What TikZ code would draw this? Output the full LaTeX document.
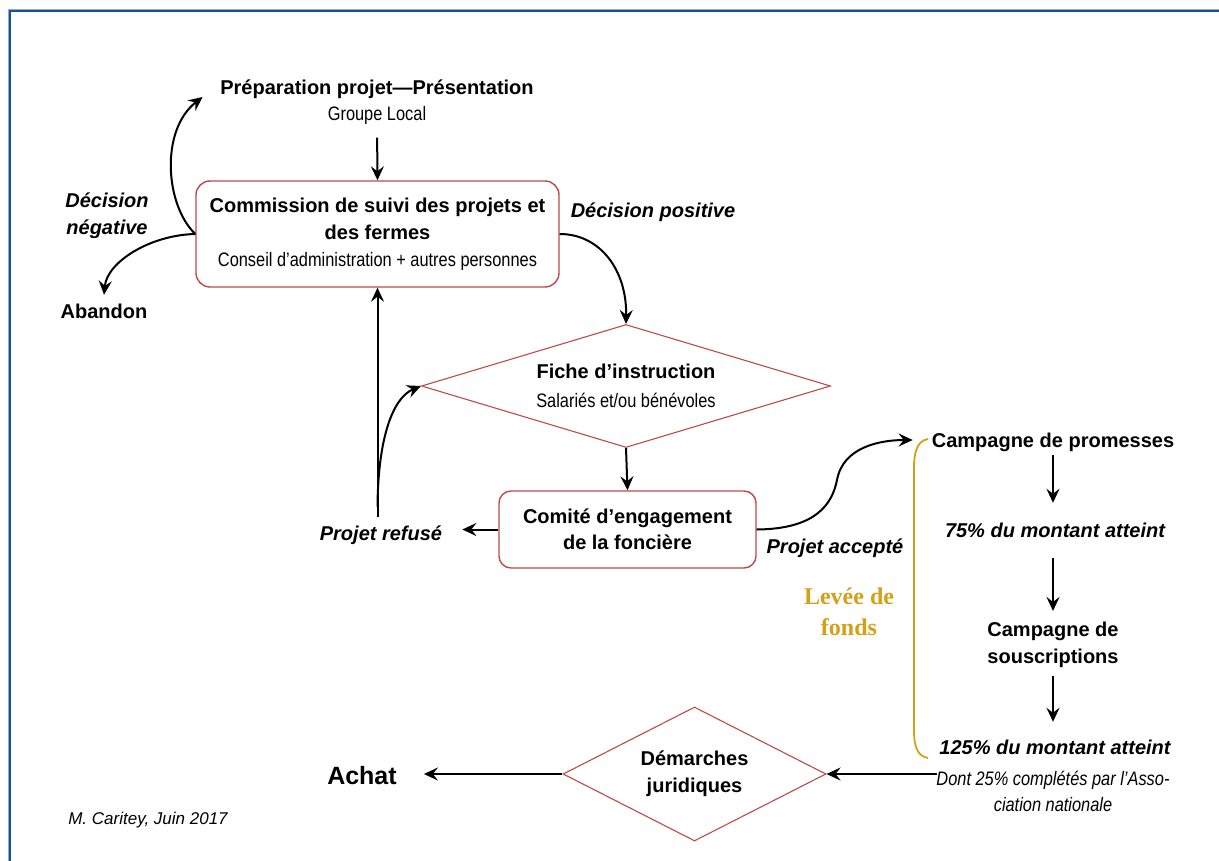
\documentclass[tikz,border=0pt]{standalone}
\usepackage{fontspec}
\setmainfont{Liberation Sans}
\newfontfamily\narrowfont[FakeStretch=0.84]{Liberation Sans}
\newfontfamily\leveefont{Liberation Serif}
\usetikzlibrary{arrows.meta,shapes.geometric}
\definecolor{boxred}{RGB}{190,75,72}
\definecolor{gold}{RGB}{212,160,23}
\definecolor{framedark}{RGB}{27,79,143}
\definecolor{framelight}{RGB}{140,175,215}
\begin{document}
\begin{tikzpicture}[x=1pt,y=-1pt,
  arr/.style={-{Stealth[length=14pt,width=13pt,inset=5pt]}, line width=2pt, black},
  lbl/.style={inner sep=0pt, text height=14pt, text depth=4pt, font=\fontsize{20}{24}\selectfont\bfseries},
  ilbl/.style={lbl, font=\fontsize{20}{24}\selectfont\bfseries\itshape},
  mline/.style={inner sep=0pt, align=center, font=\fontsize{20}{26}\selectfont},
  roundbox/.style={draw=boxred, line width=1.4pt, rounded corners=14pt, align=center, inner sep=0pt},
  diam/.style={draw=boxred, line width=1.1pt, diamond, inner sep=0pt, align=center},
]
\useasboundingbox (0,0) rectangle (1219,861);
\fill[white] (0,0) rectangle (1219,861);
% frame
\draw[framelight, line width=1pt] (8.5,861) -- (8.5,9.5) -- (1219,9.5);
\draw[framedark, line width=2pt] (10,861) -- (10,11) -- (1219,11);

% nodes
\node[mline] (prep) at (377,102) {{\bfseries Préparation projet—Présentation}\\{\narrowfont\fontsize{19.5}{26}\selectfont Groupe Local}};
\node[roundbox, minimum width=363pt, minimum height=106pt, font=\fontsize{20}{27}\selectfont] (comm) at (377.5,234)
  {{\bfseries Commission de suivi des projets et}\\{\bfseries des fermes}\\{\narrowfont\fontsize{19.5}{27}\selectfont Conseil d’administration + autres personnes}};
\node[mline, font=\fontsize{20}{27}\selectfont\bfseries\itshape] (decneg) at (107,216) {Décision\\négative};
\node[lbl] (aband) at (104,314) {Abandon};
\node[ilbl] (decpos) at (653,213) {Décision positive};
\node[diam, minimum width=409pt, minimum height=123pt, aspect=3.3, font=\fontsize{20}{29}\selectfont] (fiche) at (626,386)
  {{\bfseries Fiche d’instruction}\\{\narrowfont\fontsize{19.5}{29}\selectfont Salariés et/ou bénévoles}};
\node[roundbox, rounded corners=12pt, minimum width=257pt, minimum height=77pt, font=\fontsize{20}{26}\selectfont\bfseries] (comite) at (627.5,529.5)
  {Comité d’engagement\\de la foncière};
\node[ilbl] (refuse) at (381,535) {Projet refusé};
\node[ilbl] (accept) at (835,548) {Projet accepté};
\node[align=center, inner sep=0pt, text=gold, font=\leveefont\fontsize{24}{31}\selectfont\bfseries] (levee) at (849,612) {Levée de\\fonds};
\node[lbl] (prom) at (1053,442) {Campagne de promesses};
\node[ilbl] (p75) at (1055,532) {75\% du montant atteint};
\node[mline, font=\fontsize{20}{27}\selectfont\bfseries] (sousc) at (1053,645) {Campagne de\\souscriptions};
\node[ilbl] (p125) at (1055,749) {125\% du montant atteint};
\node[mline, font=\narrowfont\itshape\fontsize{19.5}{26}\selectfont] (dont) at (1053,791) {Dont 25\% complétés par l’Asso-\\ciation nationale};
\node[diam, minimum width=263pt, minimum height=134pt, aspect=2, font=\fontsize{20}{27}\selectfont\bfseries] (dem) at (694.5,774) {Démarches\\juridiques};
\node[inner sep=0pt, text height=18pt, text depth=0pt, font=\fontsize{25}{30}\selectfont\bfseries] (achat) at (362,775) {Achat};
\node[inner sep=0pt, font=\fontsize{17}{20}\selectfont\itshape] (sig) at (148,820) {M. Caritey, Juin 2017};

% bracket
\draw[gold, line width=1.8pt] (928,439) .. controls (917,441) and (914,452) .. (914,468) -- (914,730) .. controls (914,746) and (917,756) .. (928,758);

% connectors
\draw[arr, shorten <=13pt] (prep.south) -- (comm.north);
\draw[arr] (comm.west) .. controls (165,205) and (160,130) .. ([xshift=-17.5pt,yshift=5pt]prep.west);
\draw[arr] (comm.west) .. controls (150,235) and (107,262) .. ([yshift=10pt]aband.north);
\draw[arr] (comm.east) .. controls (600,234) and (627,270) .. (fiche.north);
\draw[arr] (fiche.south) -- (comite.north);
\draw[arr, shorten >=20pt] (comite.west) -- (comite.west -| refuse.east);
\path (comm.south |- refuse.north) ++(0,-19) coordinate (fork);
\draw[arr, shorten <=9pt] (comm.south |- refuse.north) -- (comm.south);
\draw[arr] (fork) .. controls (378,440) and (392,398) .. (fiche.west);
\draw[arr] (comite.east) .. controls (815,529) and (832,505) .. (837,480) .. controls (843,447) and (880,440) .. ([xshift=-19pt,yshift=2pt]prom.west);
\draw[arr, shorten <=4pt, shorten >=20pt] (prom.south) -- (prom.south |- p75.north);
\draw[arr, shorten <=17pt, shorten >=11pt] (prom.south |- p75.south) -- (prom.south |- sousc.north);
\draw[arr, shorten <=8pt, shorten >=18pt] (sousc.south) -- (sousc.south |- p125.north);
\draw[arr, shorten <=-1pt] (dont.west |- dem.east) -- (dem.east);
\draw[arr, shorten >=27pt] (dem.west) -- (dem.west -| achat.east);
\end{tikzpicture}
\end{document}
